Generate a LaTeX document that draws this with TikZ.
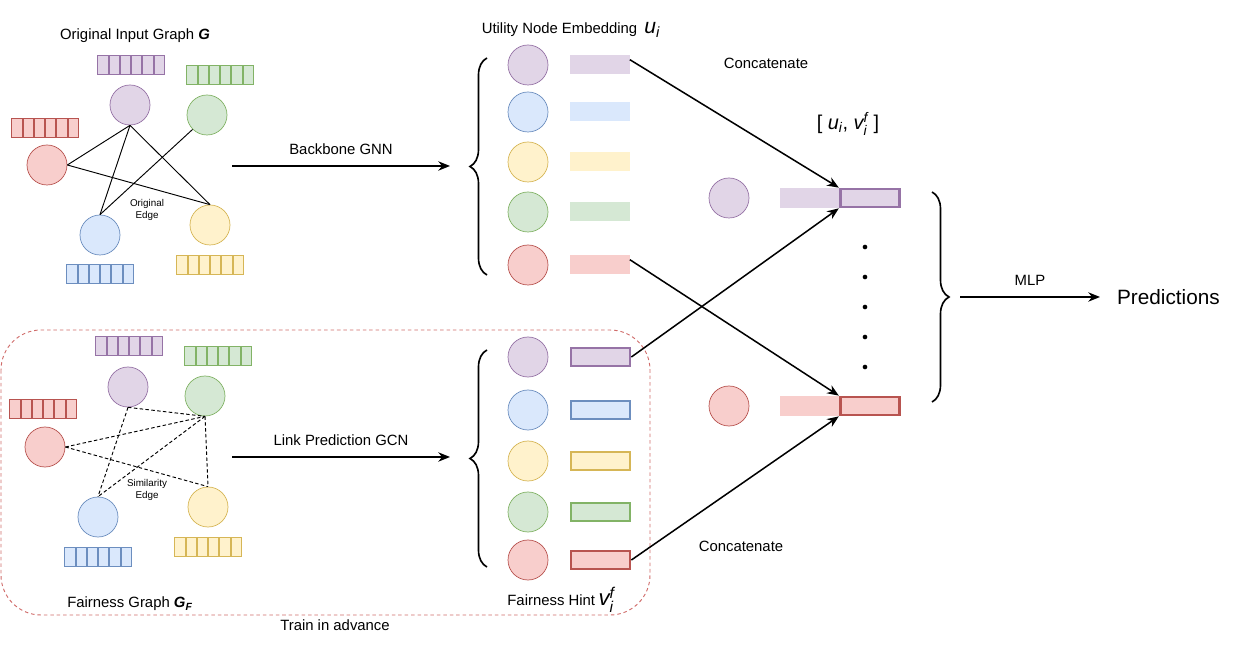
\documentclass[tikz,border=0pt]{standalone}
\usepackage{amsmath}
\usepackage{fontspec}
\setmainfont{Liberation Sans}
\usepackage{tikz}
\usetikzlibrary{positioning}
\usetikzlibrary{arrows.meta}
\usetikzlibrary{decorations.pathreplacing}

\definecolor{purfill}{HTML}{E1D5E7}
\definecolor{purline}{HTML}{9673A6}
\definecolor{grnfill}{HTML}{D5E8D4}
\definecolor{grnline}{HTML}{82B366}
\definecolor{redfill}{HTML}{F8CECC}
\definecolor{redline}{HTML}{B85450}
\definecolor{blufill}{HTML}{DAE8FC}
\definecolor{bluline}{HTML}{6C8EBF}
\definecolor{yelfill}{HTML}{FFF2CC}
\definecolor{yelline}{HTML}{D6B656}
\definecolor{boxline}{HTML}{D06C6A}

\tikzset{
    vert/.style={circle, minimum size=1.2cm, inner sep=0pt, line width=0.6pt},
    cell/.style={rectangle, minimum width=0.31cm, minimum height=0.58cm, inner sep=0pt, line width=0.6pt},
    emb/.style={rectangle, minimum width=1.8cm, minimum height=0.57cm, inner sep=0pt},
    hint/.style={rectangle, minimum width=1.77cm, minimum height=0.54cm, inner sep=0pt, line width=2.3pt},
    edge/.style={line width=0.8pt},
    simedge/.style={line width=0.8pt, dash pattern=on 3pt off 2pt},
    link/.style={-{Stealth[length=10pt,width=8pt]}, line width=1.3pt},
    small/.style={font=\fontsize{8.4}{10.5}\selectfont, align=center},
    curly/.style={decorate, decoration={brace, amplitude=0.51cm}, line width=1.4pt},
}

% six feature cells: name, x, y, colour
\newcommand{\featrow}[4]{%
    \foreach \k in {1,...,6}
        \node[cell, fill=#4fill, draw=#4line] (#1\k) at ({#2+(\k-3.5)*11.3},#3) {};
}

\begin{document}
\begin{tikzpicture}[x=0.03cm, y=-0.03cm, font=\fontsize{12.7}{15}\selectfont]
    \useasboundingbox (0,0) rectangle (1247,657);

        % Original input graph
        \node (gtitle) at (135,36) {Original Input Graph \textbf{\textit{G}}};
        \node[vert, fill=purfill, draw=purline] (gp) at (130,105) {};
        \node[vert, fill=grnfill, draw=grnline] (gg) at (207,115) {};
        \node[vert, fill=redfill, draw=redline] (gr) at (47,165) {};
        \node[vert, fill=blufill, draw=bluline] (gb) at (100,235) {};
        \node[vert, fill=yelfill, draw=yelline] (gy) at (210,225) {};
        \featrow{xp}{131}{65}{pur}
        \featrow{xg}{220}{75}{grn}
        \featrow{xr}{45}{128}{red}
        \featrow{xb}{100}{274}{blu}
        \featrow{xy}{210}{265}{yel}
        \node[small] (oedge) at (147,210) {Original\\Edge};

        \draw[edge] (gp.south) -- (gr.east);
        \draw[edge] (gp.south) -- (gb.north);
        \draw[edge] (gp.south) -- (gy.north);
        \draw[edge] (gg.south west) -- (gb.north);
        \draw[edge] (gr.east) -- (gy.north);

        % Fairness graph
        \node[vert, fill=purfill, draw=purline] (fp) at (128,387) {};
        \node[vert, fill=grnfill, draw=grnline] (fg) at (205,396) {};
        \node[vert, fill=redfill, draw=redline] (fr) at (45,447) {};
        \node[vert, fill=blufill, draw=bluline] (fb) at (98,517) {};
        \node[vert, fill=yelfill, draw=yelline] (fy) at (208,507) {};
        \featrow{zp}{129}{346}{pur}
        \featrow{zg}{218}{356}{grn}
        \featrow{zr}{43}{409}{red}
        \featrow{zb}{98}{557}{blu}
        \featrow{zy}{208}{547}{yel}
        \node[small] (sedge) at (147,490) {Similarity\\Edge};
        \node (ftitle) at (130,604) {Fairness Graph \textbf{\textit{G}}\textsubscript{\textbf{\textit{F}}}};

        \draw[simedge] (fp.south) -- (fg.south);
        \draw[simedge] (fp.south) -- (fb.north);
        \draw[simedge] (fr.east) -- (fg.south);
        \draw[simedge] (fr.east) -- (fy.north);
        \draw[simedge] (fg.south) -- (fb.north);
        \draw[simedge] (fg.south) -- (fy.north);

        \draw[boxline, line width=0.8pt, dash pattern=on 3pt off 2.5pt, rounded corners=1.2cm]
            (1,330) rectangle (650,615);
        \node (train) at (335,625) {Train in advance};

        % Backbone and link prediction
        \coordinate (bbs) at (232,166);
        \coordinate (bbe) at (450,166);
        \draw[link] (bbs) -- node[above=6pt] (bbl) {Backbone GNN} (bbe);
        \coordinate (lps) at (232,457);
        \coordinate (lpe) at (450,457);
        \draw[link] (lps) -- node[above=6pt] (lpl) {Link Prediction GCN} (lpe);

        % Utility node embeddings
        \node (utitle) at (571,30) {Utility Node Embedding\hspace{6pt}{\fontsize{18}{20}\selectfont\textit{u}\textsubscript{\textit{i}}}};
        \foreach \c/\y [count=\i] in {pur/65, blu/112, yel/162, grn/212, red/265} {
            \node[vert, fill=\c fill, draw=\c line] (u\i) at (528,\y) {};
            \node[emb, fill=\c fill, right=0.63cm of u\i] (e\i) {};
        }
        \draw[curly] (487,275) -- (487,58);

        % Fairness hints
        \foreach \c/\y [count=\i] in {pur/357, blu/410, yel/461, grn/512, red/560} {
            \node[vert, fill=\c fill, draw=\c line] (f\i) at (528,\y) {};
            \node[hint, fill=\c fill, draw=\c line, right=0.64cm of f\i] (h\i) {};
        }
        \draw[curly] (487,567) -- (487,350);
        \node (htitle) at (561,600) {Fairness Hint\hspace{3pt}{\fontsize{19}{20}\selectfont$\textit{v}_{\textit{i}}^{\textit{f}}$}};

        % Concatenation
        \node[vert, fill=purfill, draw=purline] (cp) at (729,198) {};
        \node[emb, minimum width=1.77cm, minimum height=0.6cm, fill=purfill, right=0.9cm of cp] (lp) {};
        \node[hint, fill=purfill, draw=purline, right=0pt of lp] (cb1) {};
        \node[vert, fill=redfill, draw=redline] (cr) at (729,406) {};
        \node[emb, minimum width=1.77cm, minimum height=0.6cm, fill=redfill, right=0.9cm of cr] (lr) {};
        \node[hint, fill=redfill, draw=redline, right=0pt of lr] (cb2) {};
        \foreach \y [count=\i] in {247, 277, 307, 337, 367}
            \node[circle, fill=black, inner sep=0pt, minimum size=4pt] (dot\i) at (865,\y) {};
        \node (cat1) at (766,63) {Concatenate};
        \node (cat2) at (741,546) {Concatenate};
        \node (pair) at (848,124) {\fontsize{17}{20}\selectfont[ \textit{u}$_{\textit{i}}$, $\textit{v}_{\textit{i}}^{\textit{f}}$ ]};

        % Connect the nodes
        \draw[link] (e1.10) -- (cb1.north west);
        \draw[link] (e5.10) -- (cb2.north west);
        \draw[link] (h1.east) -- (cb1.south west);
        \draw[link] (h5.east) -- (cb2.south west);

        % MLP
        \draw[curly] (932,192) -- (932,402);
        \coordinate (mlps) at (960,297);
        \coordinate (mlpe) at (1100,297);
        \draw[link] (mlps) -- node[above=6pt] (mlpl) {MLP} (mlpe);
        \node[right=0.39cm of mlpe, font=\fontsize{17.7}{20}\selectfont] (pred) {Predictions};
      \end{tikzpicture}
\end{document}
